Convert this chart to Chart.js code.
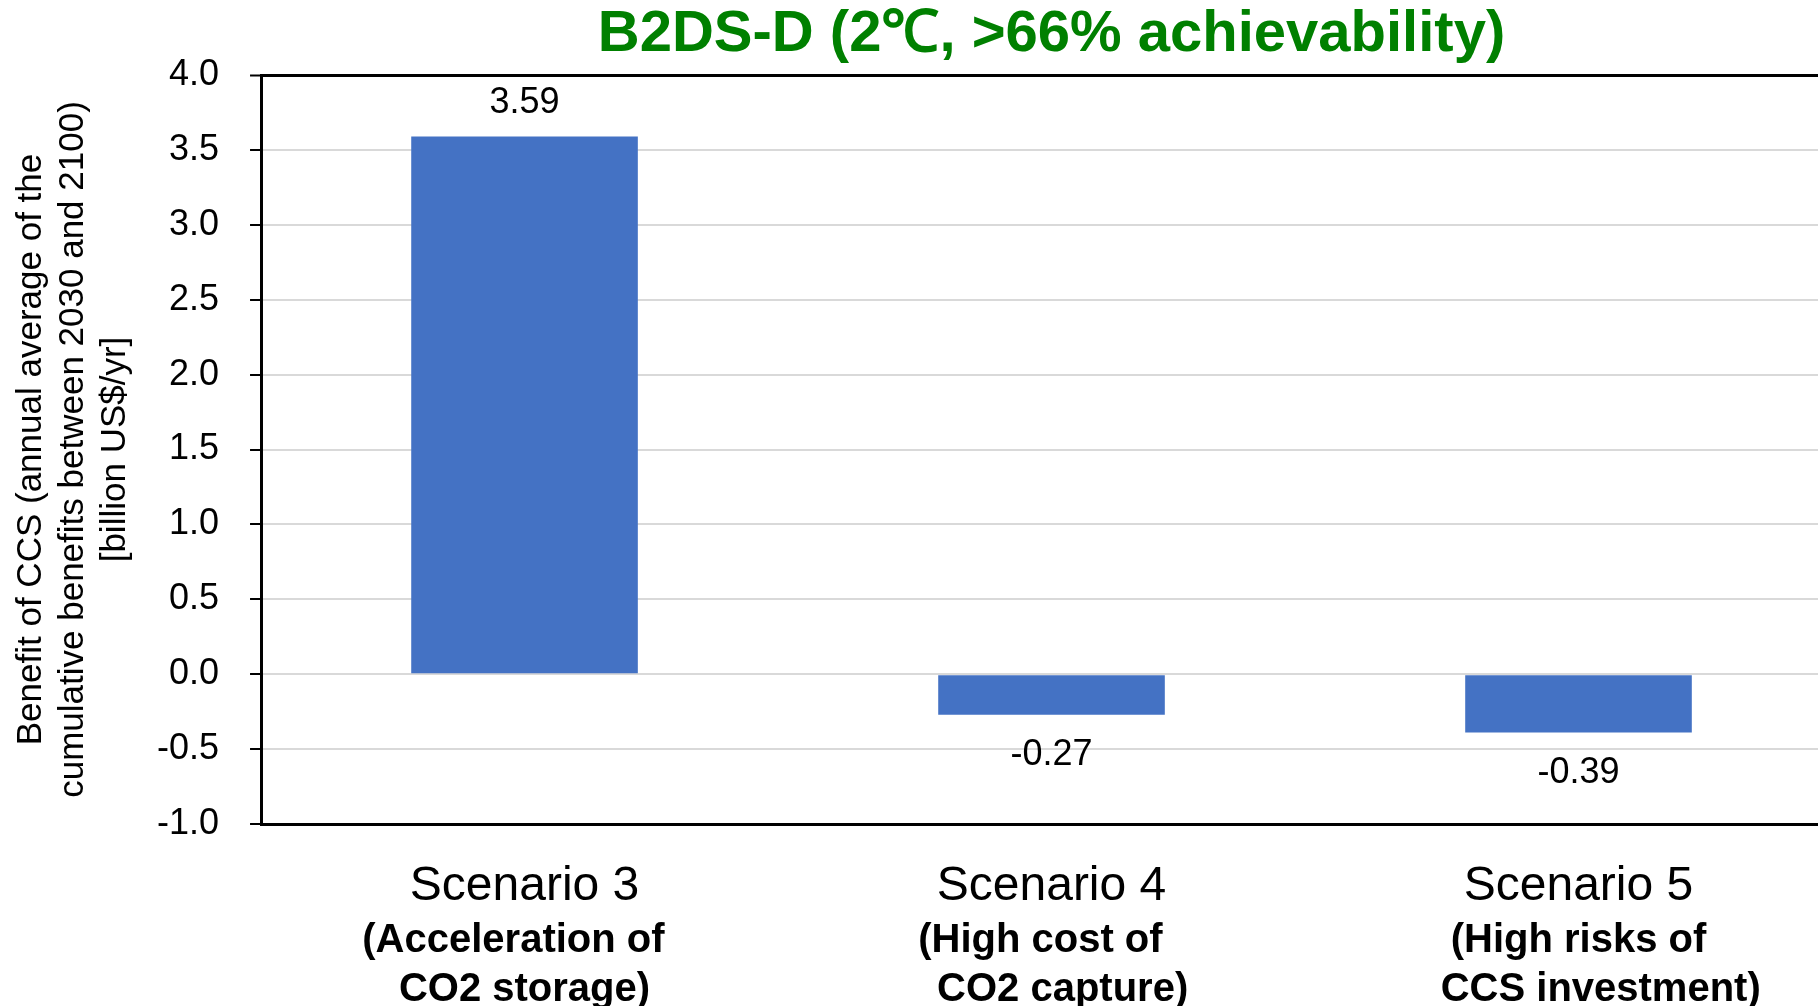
<!DOCTYPE html>
<html>
<head>
<meta charset="utf-8">
<script src="https://cdn.jsdelivr.net/npm/chart.js@4"></script>
<style>
  html, body { margin: 0; padding: 0; background: #fff; overflow: hidden; }
  #wrap { width: 1842px; height: 1006px; }
</style>
</head>
<body>
<div id="wrap"><canvas id="chart" width="1842" height="1006"></canvas></div>
<script>
const scenarios = ['Scenario 3', 'Scenario 4', 'Scenario 5'];
const scenarioNotes = [
  ['(Acceleration of  ', 'CO2 storage)'],
  ['(High cost of  ', '  CO2 capture)'],
  ['(High risks of', '    CCS investment)']
];
const benefit = [3.59, -0.27, -0.39];
const yTitle = [
  'Benefit of CCS (annual average of the',
  'cumulative benefits between 2030 and 2100)',
  '[billion US$/yr]'
];
const chartTitle = 'B2DS-D (2\u2103, >66% achievability)';

const FONT = "'Liberation Sans', Arial, sans-serif";

// value labels above / below each bar
const valueLabels = {
  id: 'valueLabels',
  afterDatasetsDraw(chart) {
    const ctx = chart.ctx;
    const meta = chart.getDatasetMeta(0);
    ctx.save();
    ctx.font = '36px ' + FONT;
    ctx.fillStyle = '#000';
    ctx.textAlign = 'center';
    ctx.textBaseline = 'alphabetic';
    meta.data.forEach((bar, i) => {
      const v = benefit[i];
      const y = v >= 0 ? bar.y - 23 : bar.y + 50;
      ctx.fillText(v.toFixed(2), bar.x, y);
    });
    ctx.restore();
  }
};

// bold sub-captions under the scenario names
const scenarioCaptions = {
  id: 'scenarioCaptions',
  afterDraw(chart) {
    const ctx = chart.ctx;
    const x = chart.scales.x;
    ctx.save();
    ctx.font = 'bold 40px ' + FONT;
    ctx.fillStyle = '#000';
    ctx.textAlign = 'center';
    ctx.textBaseline = 'middle';
    scenarioNotes.forEach((lines, i) => {
      const cx = x.getPixelForTick(i);
      lines.forEach((t, j) => ctx.fillText(t, cx, x.top + 116.5 + j * 49));
    });
    ctx.restore();
  }
};

new Chart(document.getElementById('chart').getContext('2d'), {
  type: 'bar',
  data: {
    labels: scenarios,
    datasets: [{
      data: benefit,
      backgroundColor: '#4472C4',
      barPercentage: 0.43,
      categoryPercentage: 1.0
    }]
  },
  options: {
    responsive: false,
    animation: false,
    devicePixelRatio: 1,
    layout: { padding: { left: 8, right: 0, top: 0, bottom: 57 } },
    plugins: {
      legend: { display: false },
      tooltip: { enabled: false },
      title: {
        display: true,
        text: chartTitle,
        fullSize: false,
        color: '#008000',
        font: { family: FONT, size: 58, weight: 'bold', lineHeight: 1.2 },
        padding: { top: 0, bottom: 5.4 }
      }
    },
    scales: {
      x: {
        type: 'category',
        grid: { display: false, drawTicks: false },
        border: { display: true, color: '#000', width: 3 },
        ticks: {
          color: '#000',
          font: { family: FONT, size: 48, lineHeight: 1.2 },
          padding: 33.7,
          maxRotation: 0,
          autoSkip: false
        }
      },
      y: {
        min: -1,
        max: 4,
        border: { display: true, color: '#000', width: 3 },
        grid: {
          color: c => c.tick && c.tick.value === 4 ? '#000' : '#d9d9d9',
          lineWidth: c => c.tick && c.tick.value === 4 ? 3 : 2,
          tickColor: '#000',
          tickLength: 11,
          tickWidth: 2
        },
        ticks: {
          stepSize: 0.5,
          color: '#000',
          padding: 31,
          font: { family: FONT, size: 36 },
          callback: v => Number(v).toFixed(1)
        },
        title: {
          display: true,
          text: yTitle,
          color: '#000',
          font: { family: FONT, size: 35, lineHeight: 1.2 },
          padding: { top: 2, bottom: -10 }
        }
      }
    }
  },
  plugins: [valueLabels, scenarioCaptions]
});
</script>
</body>
</html>
